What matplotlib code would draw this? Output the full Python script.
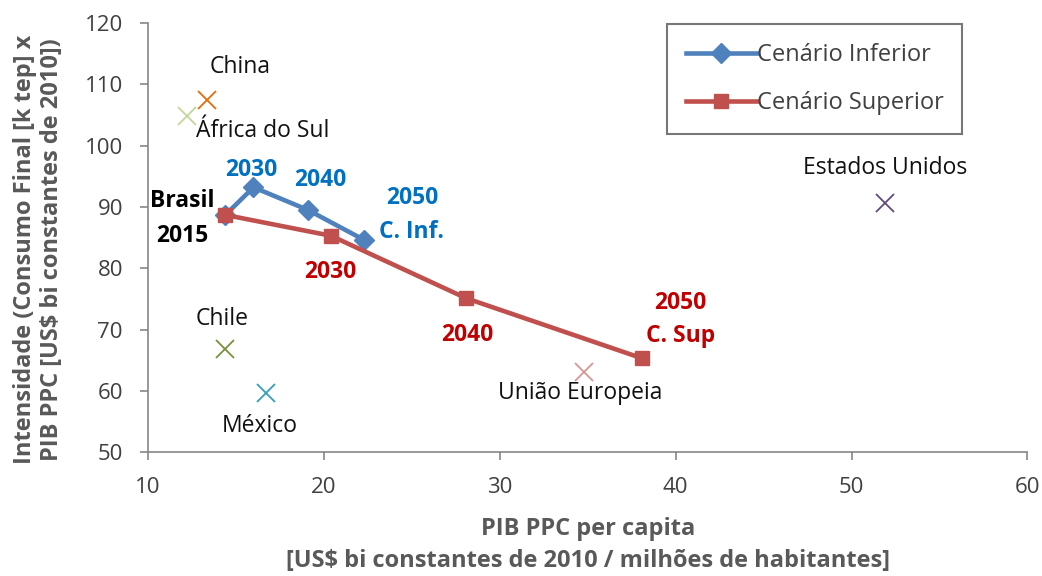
import matplotlib.pyplot as plt

plt.rcParams['font.family'] = ['Open Sans', 'DejaVu Sans']

# cenarios
inf_x = [14.4, 16.0, 19.1, 22.3]
inf_y = [88.7, 93.2, 89.5, 84.6]
sup_x = [14.4, 20.4, 28.1, 38.1]
sup_y = [88.7, 85.3, 75.1, 65.3]

# paises
paises = ['China', 'África do Sul', 'Chile', 'México', 'União Europeia', 'Estados Unidos']
pais_x = [13.35, 12.2, 14.4, 16.7, 34.8, 51.9]
pais_y = [107.4, 104.8, 66.8, 59.6, 63.1, 90.6]
pais_cor = ['#E46C0A', '#C3D69B', '#77933C', '#31A0B8', '#D99694', '#604A7B']
# posicao dos rotulos dos paises
lab_x = [15.23, 16.54, 14.2, 16.37, 34.57, 51.9]
lab_y = [112.8, 102.4, 71.7, 54.25, 59.6, 96.3]

blue = '#4F81BD'
red = '#C0504D'
tblue = '#0070C0'
tred = '#C00000'
gray = '#595959'

fig = plt.figure(figsize=(10.42, 5.76), dpi=100)
ax = fig.add_axes([0.142, 0.215, 0.844, 0.745])

for x, y, c in zip(pais_x, pais_y, pais_cor):
    ax.plot(x, y, marker='x', color=c, markersize=13, mew=1.3, ls='none')

ax.plot(inf_x, inf_y, color=blue, lw=3.3, marker='D', markersize=10, label='Cenário Inferior')
ax.plot(sup_x, sup_y, color=red, lw=3.3, marker='s', markersize=9.5, label='Cenário Superior')

fs = 16.5
for nome, x, y in zip(paises, lab_x, lab_y):
    ax.text(x, y, nome, fontsize=fs, ha='center', va='center', color='#111111')

# rotulos dos anos
fb = 16.5
ax.text(11.93, 90.96, 'Brasil', fontsize=fb, ha='center', va='center', fontweight='bold')
ax.text(11.93, 85.25, '2015', fontsize=fb, ha='center', va='center', fontweight='bold')
ax.text(15.86, 96.0, '2030', fontsize=fb, ha='center', va='center', fontweight='bold', color=tblue)
ax.text(19.78, 94.4, '2040', fontsize=fb, ha='center', va='center', fontweight='bold', color=tblue)
ax.text(25.0, 91.45, '2050', fontsize=fb, ha='center', va='center', fontweight='bold', color=tblue)
ax.text(24.96, 85.9, 'C. Inf.', fontsize=fb, ha='center', va='center', fontweight='bold', color=tblue)
ax.text(20.35, 79.4, '2030', fontsize=fb, ha='center', va='center', fontweight='bold', color=tred)
ax.text(28.15, 69.1, '2040', fontsize=fb, ha='center', va='center', fontweight='bold', color=tred)
ax.text(40.26, 74.3, '2050', fontsize=fb, ha='center', va='center', fontweight='bold', color=tred)
ax.text(40.26, 68.9, 'C. Sup', fontsize=fb, ha='center', va='center', fontweight='bold', color=tred)

ax.set_xlim(10, 60)
ax.set_ylim(50, 120)
ax.set_xticks(range(10, 61, 10))
ax.set_yticks(range(50, 121, 10))
ax.tick_params(labelsize=16, colors='#868686', labelcolor='#404040', direction='out',
               length=6, width=1.2, pad=12)
for s in ['top', 'right']:
    ax.spines[s].set_visible(False)
for s in ['left', 'bottom']:
    ax.spines[s].set_color('#868686')
    ax.spines[s].set_linewidth(1.2)

ax.set_xlabel('PIB PPC per capita\n[US$ bi constantes de 2010 / milhões de habitantes]',
              fontsize=17, fontweight='bold', color=gray, linespacing=1.4)
ax.xaxis.set_label_coords(0.5, -0.152)
ax.xaxis.label.set_va('top')
ax.set_ylabel('Intensidade (Consumo Final [k tep] x\nPIB PPC [US$ bi constantes de 2010])',
              fontsize=17, fontweight='bold', color=gray, linespacing=1.2)
ax.yaxis.set_label_coords(-0.095, 0.472)

leg = ax.legend(loc='upper right', bbox_to_anchor=(0.926, 0.997), fontsize=17, frameon=True,
                fancybox=False, edgecolor='#555555', handlelength=3.0, handletextpad=0.0,
                borderpad=0.8, borderaxespad=0, labelspacing=1.0, labelcolor='#404040')
leg.get_frame().set_linewidth(1.5)

fig.savefig('out.png', dpi=100)
